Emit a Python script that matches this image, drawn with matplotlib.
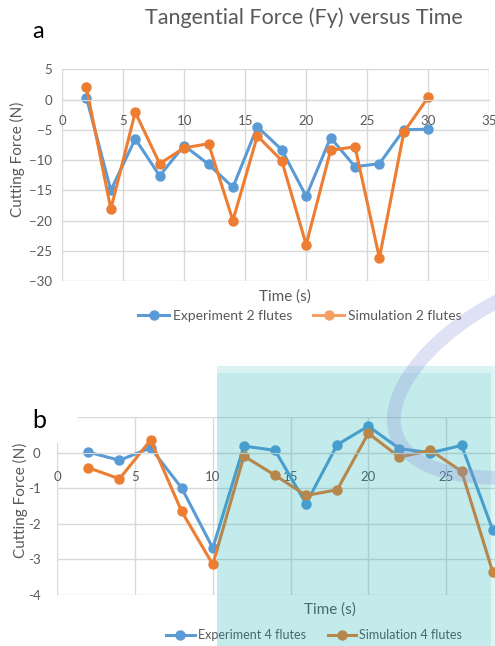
import numpy as np
import matplotlib.pyplot as plt
from matplotlib.patches import Rectangle, PathPatch
from matplotlib.path import Path
from matplotlib.lines import Line2D

plt.rcParams['font.family'] = ['Lato', 'DejaVu Sans']

# panel a: 2 flutes
time_a = [2, 4, 6, 8, 10, 12, 14, 16, 18, 20, 22, 24, 26, 28, 30]
exp_2 = [0.3, -15.0, -6.5, -12.6, -7.6, -10.7, -14.5, -4.5, -8.3, -16.0, -6.3, -11.1, -10.6, -5.0, -4.9]
sim_2 = [2.0, -18.1, -2.1, -10.6, -8.0, -7.3, -20.0, -6.0, -10.1, -24.0, -8.4, -7.8, -26.2, -5.4, 0.4]

# panel b: 4 flutes
time_b = [2, 4, 6, 8, 10, 12, 14, 16, 18, 20, 22, 24, 26, 28]
exp_4 = [0.02, -0.21, 0.14, -0.99, -2.68, 0.19, 0.07, -1.43, 0.23, 0.75, 0.12, 0.0, 0.21, -2.17]
sim_4 = [-0.42, -0.73, 0.36, -1.65, -3.14, -0.09, -0.63, -1.2, -1.04, 0.55, -0.12, 0.07, -0.52, -3.35]

W, H = 495, 646
fig = plt.figure(figsize=(W / 100, H / 100), dpi=100)


def fx(px):
    return px / W


def fy(py):
    return 1 - py / H


blue = '#5b9bd5'
orange = '#ed7d31'
grey = '#595959'
gridc = '#d9d9d9'


def style(ax, xlim, ylim, xticks, yticks, xpad, ypad):
    ax.set_xlim(*xlim)
    ax.set_ylim(*ylim)
    ax.set_xticks(xticks)
    ax.set_yticks(yticks)
    ax.grid(True, color=gridc, lw=1)
    ax.set_axisbelow(True)
    for s in ['top', 'right', 'left']:
        ax.spines[s].set_visible(False)
    ax.spines['bottom'].set_position(('data', 0))
    ax.spines['bottom'].set_color(gridc)
    ax.tick_params(length=0, labelcolor=grey, labelsize=9.5)
    ax.tick_params(axis='x', pad=xpad)
    ax.tick_params(axis='y', pad=ypad)
    ax.patch.set_alpha(0)


# ---- panel a ----
ax1 = fig.add_axes([fx(62), fy(281), fx(489.3) - fx(62), (281 - 69.3) / H])
style(ax1, (0, 35), (-30, 5), np.arange(0, 36, 5), np.arange(-30, 6, 5), 11, 7)
ax1.plot(time_a, exp_2, color=blue, lw=2.2, marker='o', ms=6.5)
ax1.plot(time_a, sim_2, color=orange, lw=2.2, marker='o', ms=6.5)
ax1.text(fx(304), fy(18), 'Tangential Force (Fy) versus Time', transform=fig.transFigure,
         ha='center', va='center', fontsize=15.5, color=grey)
ax1.text(fx(17), fy(102), 'Cutting Force (N)', transform=fig.transFigure, rotation=90,
         ha='center', va='top', fontsize=11, color=grey)
ax1.text(fx(285), fy(297), 'Time (s)', transform=fig.transFigure,
         ha='center', va='center', fontsize=11, color=grey)
ax1.legend(handles=[Line2D([], [], color=blue, lw=2.2, marker='o', ms=6.5),
                    Line2D([], [], color='#f4a064', lw=2.2, marker='o', ms=6.5)],
           labels=['Experiment 2 flutes', 'Simulation 2 flutes'],
           loc='center', bbox_to_anchor=(fx(300), fy(316)), bbox_transform=fig.transFigure,
           ncol=2, frameon=False, fontsize=10, labelcolor=grey, handlelength=2.2,
           columnspacing=1.5, handletextpad=0.3)
fig.text(fx(38), fy(31), 'a', ha='center', va='center', fontsize=17, color='black')

# ---- panel b ----
ax2 = fig.add_axes([fx(57.3), fy(595), 30 * 15.55 / W, (595 - 417.3) / H])
style(ax2, (0, 30), (-4, 1), np.arange(0, 26, 5), np.arange(-4, 1.1, 1), 13, 12)
ax2.set_yticklabels(['-4', '-3', '-2', '-1', '0', ''])
ax2.plot(time_b, exp_4, color=blue, lw=2.2, marker='o', ms=6.5, clip_on=False)
ax2.plot(time_b, sim_4, color=orange, lw=2.2, marker='o', ms=6.5, clip_on=False)
ax2.text(fx(20), fy(443), 'Cutting Force (N)', transform=fig.transFigure, rotation=90,
         ha='center', va='top', fontsize=11, color=grey)
ax2.text(fx(330), fy(610), 'Time (s)', transform=fig.transFigure,
         ha='center', va='center', fontsize=11, color=grey)
ax2.legend(handles=[Line2D([], [], color=blue, lw=2.2, marker='o', ms=6.5),
                    Line2D([], [], color=orange, lw=2.2, marker='o', ms=6.5)],
           labels=['Experiment 4 flutes', 'Simulation 4 flutes'],
           loc='center', bbox_to_anchor=(fx(314), fy(635)), bbox_transform=fig.transFigure,
           ncol=2, frameon=False, prop={'family': ['Liberation Sans Narrow', 'Lato'], 'size': 9},
           labelcolor=grey, handlelength=2.3, columnspacing=1.75, handletextpad=0.25)

# white box behind "b"
fig.patches.append(Rectangle((0, fy(443)), fx(78), fy(380) - fy(443), transform=fig.transFigure,
                             facecolor='white', edgecolor='none', zorder=2))
fig.text(fx(39), fy(421), 'b', ha='center', va='center', fontsize=18, color='black', zorder=3)

# teal overlay
teal = (0, 170 / 255, 170 / 255)
fig.patches.append(Rectangle((fx(217), 0), fx(491) - fx(217), fy(373), transform=fig.transFigure,
                             facecolor=teal, alpha=0.23, edgecolor='none', zorder=4))
fig.patches.append(Rectangle((fx(217), fy(373)), fx(491) - fx(217), fy(366) - fy(373),
                             transform=fig.transFigure, facecolor=teal, alpha=0.15,
                             edgecolor='none', zorder=4))
fig.patches.append(Rectangle((fx(491), 0), fx(495) - fx(491), fy(366), transform=fig.transFigure,
                             facecolor=teal, alpha=0.12, edgecolor='none', zorder=4))

# lavender arc
verts = [(fx(500), fy(300)), (fx(390), fy(355)), (fx(330), fy(475)), (fx(500), fy(478))]
arc = Path(verts, [Path.MOVETO, Path.CURVE4, Path.CURVE4, Path.CURVE4])
fig.patches.append(PathPatch(arc, transform=fig.transFigure, fill=False,
                             edgecolor=(0.55, 0.58, 0.85), lw=10, alpha=0.28, zorder=5))

fig.savefig('out.png', dpi=100)
